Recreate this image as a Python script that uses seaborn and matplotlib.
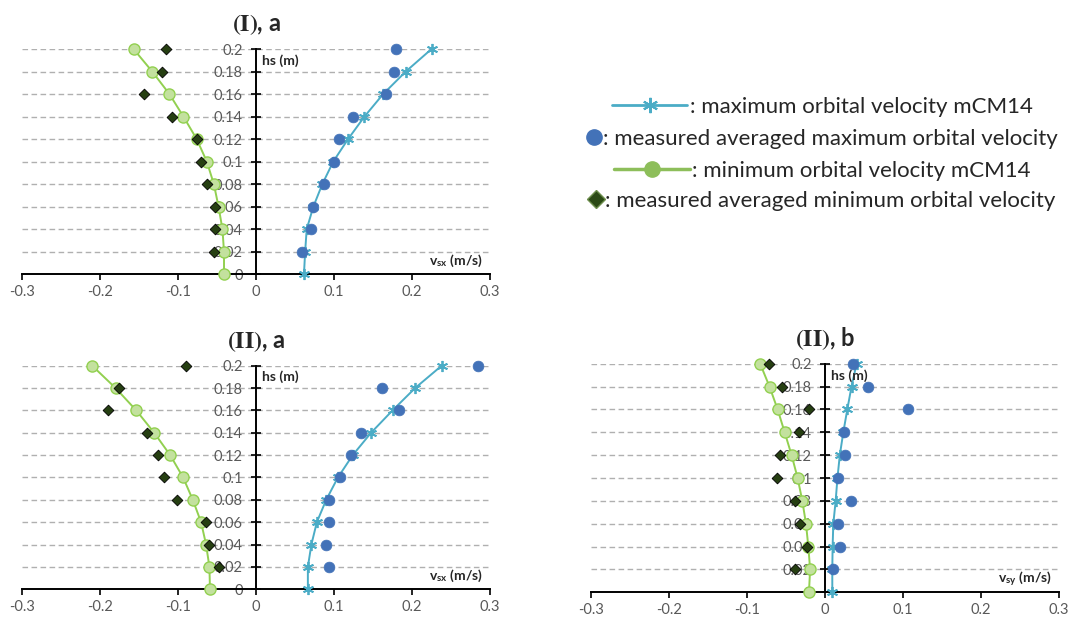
import matplotlib
matplotlib.use('Agg')
import matplotlib.pyplot as plt
from matplotlib.lines import Line2D
import seaborn as sns

# === Data ===
hs = [0, 0.02, 0.04, 0.06, 0.08, 0.1, 0.12, 0.14, 0.16, 0.18, 0.2]
hs_meas = hs[1:]
x_ticks = [-0.3, -0.2, -0.1, 0, 0.1, 0.2, 0.3]
y_ticks = hs

# panel (I), a  -- v_sx
model_max_Ia = [0.0615, 0.063, 0.065, 0.0735, 0.085, 0.099, 0.118, 0.139, 0.163, 0.192, 0.225]
meas_max_Ia = [0.0585, 0.070, 0.0735, 0.087, 0.100, 0.107, 0.124, 0.167, 0.177, 0.179]
model_min_Ia = [-0.041, -0.041, -0.043, -0.048, -0.054, -0.063, -0.076, -0.093, -0.111, -0.133, -0.157]
meas_min_Ia = [-0.054, -0.052, -0.053, -0.063, -0.070, -0.076, -0.108, -0.144, -0.121, -0.115]

# panel (II), a  -- v_sx
model_max_IIa = [0.0665, 0.0665, 0.071, 0.078, 0.090, 0.105, 0.124, 0.1475, 0.175, 0.204, 0.238]
meas_max_IIa = [0.093, 0.0895, 0.093, 0.094, 0.108, 0.1215, 0.135, 0.183, 0.161, 0.284]
model_min_IIa = [-0.059, -0.0597, -0.064, -0.0704, -0.081, -0.0934, -0.110, -0.1305, -0.1535, -0.180, -0.210]
meas_min_IIa = [-0.048, -0.0605, -0.0635, -0.101, -0.118, -0.126, -0.140, -0.190, -0.1757, -0.0896]

# panel (II), b  -- v_sy
model_max_IIb = [0.0094, 0.0094, 0.0098, 0.0107, 0.0137, 0.016, 0.019, 0.0235, 0.0286, 0.034, 0.0405]
meas_max_IIb = [0.0098, 0.0188, 0.0166, 0.033, 0.017, 0.026, 0.0248, 0.106, 0.0555, 0.036]
model_min_IIb = [-0.0205, -0.019, -0.0213, -0.0243, -0.029, -0.035, -0.0427, -0.0516, -0.0606, -0.071, -0.083]
meas_min_IIb = [-0.038, -0.0235, -0.032, -0.038, -0.0615, -0.0576, -0.0337, -0.020, -0.0555, -0.072]

legend_labels = [': maximum orbital velocity mCM14',
                 ': measured averaged maximum orbital velocity',
                 ': minimum orbital velocity mCM14',
                 ': measured averaged minimum orbital velocity']

# === Style ===
sns.set_style('white')
plt.rcParams['font.family'] = ['Lato', 'DejaVu Sans']
plt.rcParams['mathtext.fontset'] = 'stix'

c_model_max = '#4BACC6'
c_meas_max = '#4372B8'
c_model_min = '#92D050'
c_model_min_fill = '#C3E19E'
c_meas_min = '#263F12'
c_tick = '#595959'
star = (6, 2, 0)


def draw_panel(ax, title, xlabel, model_max, meas_max, model_min, meas_min):
    sns.lineplot(x=model_max, y=hs, ax=ax, orient='y', estimator=None, color=c_model_max,
                 lw=1.4, marker=star, markersize=8, markeredgecolor=c_model_max,
                 markeredgewidth=1.3, zorder=3, clip_on=False)
    sns.scatterplot(x=meas_max, y=hs_meas, ax=ax, marker='o', s=60, color=c_meas_max,
                    edgecolor=c_meas_max, linewidth=0.5, zorder=4, clip_on=False)
    sns.lineplot(x=model_min, y=hs, ax=ax, orient='y', estimator=None, color=c_model_min,
                 lw=1.4, marker='o', markersize=8, markerfacecolor=c_model_min_fill,
                 markeredgecolor=c_model_min, markeredgewidth=1.0, zorder=3, clip_on=False)
    sns.scatterplot(x=meas_min, y=hs_meas, ax=ax, marker='D', s=30, color=c_meas_min,
                    edgecolor='black', linewidth=0.6, zorder=4, clip_on=False)

    ax.set_xlim(-0.3, 0.3)
    ax.set_ylim(0, 0.2)
    ax.set_xticks(x_ticks)
    ax.set_xticklabels([f'{v:g}' for v in x_ticks])
    ax.set_yticks(y_ticks)
    ax.set_yticklabels([f'{v:g}' for v in y_ticks])
    ax.set_xlabel('')
    ax.set_ylabel('')

    for s in ['top', 'right']:
        ax.spines[s].set_visible(False)
    ax.spines['left'].set_position(('data', 0))
    ax.spines['bottom'].set_position(('data', 0))
    for s in ['left', 'bottom']:
        ax.spines[s].set_color('black')
        ax.spines[s].set_linewidth(1.4)

    ax.tick_params(axis='y', direction='inout', length=7, width=1.2, color='black',
                   labelsize=10.5, labelcolor=c_tick, pad=6, left=True)
    ax.tick_params(axis='x', direction='out', length=4, width=1.2, color='black',
                   labelsize=10.5, labelcolor=c_tick, pad=4, bottom=True)

    ax.set_axisbelow(True)
    ax.yaxis.grid(True, color='#B0B0B0', linestyle=(0, (4, 2.5)), linewidth=1.0)
    ax.xaxis.grid(False)

    ax.set_title(title, fontsize=17, fontweight='bold', pad=13)
    ax.text(0.513, 0.93, 'hs (m)', transform=ax.transAxes, fontsize=10,
            fontweight='bold', ha='left', va='baseline')
    ax.text(0.985, 0.04, xlabel, transform=ax.transAxes, fontsize=10,
            fontweight='bold', ha='right', va='baseline')


# === Figure ===
fig = plt.figure(figsize=(10.72, 6.19), dpi=100)
ax1 = fig.add_axes([0.0205, 0.5569, 0.4366, 0.3639])
ax2 = fig.add_axes([0.0205, 0.0480, 0.4366, 0.3612])
ax3 = fig.add_axes([0.5510, 0.0431, 0.4371, 0.3693])

draw_panel(ax1, r'$\mathbf{(I)}$, a', r'v$_{\mathregular{sx}}$ (m/s)',
           model_max_Ia, meas_max_Ia, model_min_Ia, meas_min_Ia)
draw_panel(ax2, r'$\mathbf{(II)}$, a', r'v$_{\mathregular{sx}}$ (m/s)',
           model_max_IIa, meas_max_IIa, model_min_IIa, meas_min_IIa)
draw_panel(ax3, r'$\mathbf{(II)}$, b', r'v$_{\mathregular{sy}}$ (m/s)',
           model_max_IIb, meas_max_IIb, model_min_IIb, meas_min_IIb)

# === Legend (one centred row per entry) ===
handles = [
    Line2D([], [], color=c_model_max, lw=2, marker=star, markersize=11,
           markeredgecolor=c_model_max, markeredgewidth=1.5),
    Line2D([], [], color=c_meas_max, lw=0, marker='o', markersize=11),
    Line2D([], [], color='#8DBE5A', lw=2.5, marker='o', markersize=11,
           markerfacecolor='#8DBE5A', markeredgecolor='#8DBE5A'),
    Line2D([], [], color='#2B4A15', lw=0, marker='D', markersize=9,
           markeredgecolor='#6E8F4E', markeredgewidth=1.0),
]
rows_y = [0.827, 0.775, 0.724, 0.675]
for h, lab, y in zip(handles, legend_labels, rows_y):
    hl = 3.4 if h.get_linewidth() > 0 else 0.6
    fig.legend(handles=[h], labels=[lab], loc='center', bbox_to_anchor=(0.767, y),
               frameon=False, fontsize=16, handlelength=hl, handletextpad=0.1,
               borderpad=0, borderaxespad=0)

fig.savefig('out.png', dpi=100)
plt.close(fig)
